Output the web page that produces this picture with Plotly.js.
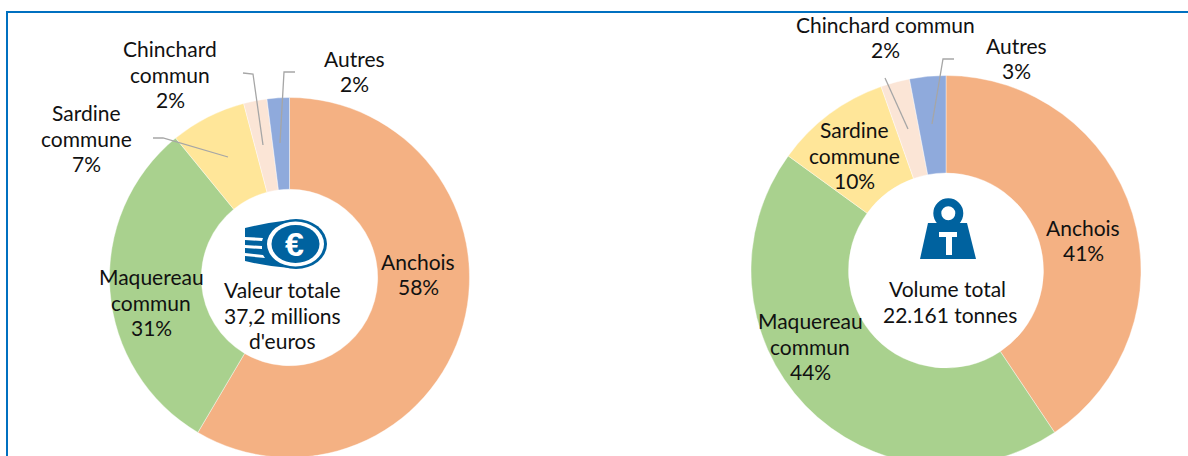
<!DOCTYPE html>
<html><head><meta charset="utf-8">
<script src="https://cdn.plot.ly/plotly-3.0.1.min.js"></script>
<style>html,body{margin:0;padding:0;background:#fff;overflow:hidden;width:1188px;height:456px}</style>
</head><body><div id="chart" style="width:1188px;height:520px"></div>
<script>
const species = ['Anchois','Maquereau commun','Sardine commune','Chinchard commun','Autres'];
const valueShares = [58.5,30.6,6.8,2.1,2.0];
const volumeShares = [40.6,44.4,9.6,2.4,3.0];
const valueLabels = ['58%','31%','7%','2%','2%'];
const volumeLabels = ['41%','44%','10%','2%','3%'];
const colours = ['#F4B183','#A9D18E','#FFE699','#FBE5D6','#8FAADC'];
const H = 520, W = 1188;
const FONT = 'Lato, sans-serif', SIZE = 21, PITCH = 25.7;

function pie(vals, cx, cy, r, hole){
  return {type:'pie', values:vals, labels:species, sort:false, direction:'clockwise', rotation:0,
    hole:hole, textinfo:'none', hoverinfo:'label+percent', showlegend:false,
    marker:{colors:colours, line:{color:'#fff',width:0.4}},
    domain:{x:[(cx-r)/W,(cx+r)/W], y:[1-(cy+r)/H,1-(cy-r)/H]}};
}
function block(lines,x,y){
  return lines.map((t,i)=>({text:t,x:x,y:y+(i-(lines.length-1)/2)*PITCH,xref:'x',yref:'y',showarrow:false,
    xanchor:'center',yanchor:'middle',align:'center',font:{family:FONT,size:SIZE,color:'#111'}}));
}
const two=s=>s.split(' ');
const annotations=[].concat(
  block([species[0],valueLabels[0]],418,274),
  block([...two(species[1]),valueLabels[1]],151,302),
  block([...two(species[2]),valueLabels[2]],86,138),
  block([...two(species[3]),valueLabels[3]],170,74),
  block([species[4],valueLabels[4]],354,71),
  block(['Valeur totale','37,2 millions',"d'euros"],282,315),
  block([species[0],volumeLabels[0]],1083,240),
  block([...two(species[1]),volumeLabels[1]],810,346),
  block([...two(species[2]),volumeLabels[2]],854,155),
  block([species[3],volumeLabels[3]],885,37),
  block([species[4],volumeLabels[4]],1016,58),
  block(['Volume total'],947,288),
  block(['22.161 tonnes'],950,314),
  [{text:'<b>€</b>',x:294,y:244,xref:'x',yref:'y',showarrow:false,font:{family:'Liberation Sans',size:34,color:'#fff'}}]
);
const BLUE='#00629F', GREY='#A6A6A6';
const path=(d,fill)=>({type:'path',xref:'x',yref:'y',path:d,fillcolor:fill,line:{width:0},layer:'above'});
const oval=(cx,cy,rx,ry,fill)=>({type:'circle',xref:'x',yref:'y',x0:cx-rx,x1:cx+rx,y0:cy-ry,y1:cy+ry,fillcolor:fill,line:{width:0},layer:'above'});
const leader=d=>({type:'path',xref:'x',yref:'y',path:d,line:{color:GREY,width:1.3},layer:'above'});
const shapes=[
  {type:'line',xref:'x',yref:'y',x0:7,x1:1188,y0:12,y1:12,line:{color:'#0070C0',width:2},layer:'above'},
  {type:'line',xref:'x',yref:'y',x0:7,x1:7,y0:11,y1:456,line:{color:'#0070C0',width:2},layer:'above'},
  leader('M243,73 L253,74 L263,145'),
  leader('M295,72 L284,72 L280,143'),
  leader('M153,138 L163,138 L228,157'),
  leader('M885,78 L908,129'),
  leader('M954,59 L943,59 L932,124'),
  path('M245,228 Q265,223 290,220 L290,268 Q265,266 245,261 Z',BLUE),
  path('M245,237 L263,238 L262,241 L245,240 Z','#fff'),
  path('M245,245 L262,246 L262,249 L245,248 Z','#fff'),
  path('M245,253 L263,255 L265,258 L245,256 Z','#fff'),
  oval(296,244,31,25,BLUE),
  oval(295.5,244,28.5,22.5,'#fff'),
  oval(295.5,244,24,19,BLUE),
  oval(948.3,213.3,15,15,BLUE),
  path('M928,223 L967,223 L976,259 L920,259 Z',BLUE),
  oval(948.3,213.3,7,7,'#fff'),
  path('M939,232 L957,232 L957,237 L952,237 L952,255 L946,255 L946,237 L939,237 Z','#fff')
];
Plotly.newPlot('chart',[
  pie(valueShares,289.5,277.5,180,0.49),
  pie(volumeShares,946,270.5,195,0.5),
  {type:'scatter',x:[null],y:[null],hoverinfo:'skip',showlegend:false,mode:'markers'}
],{
  width:W,height:H,margin:{l:0,r:0,t:0,b:0},paper_bgcolor:'#fff',plot_bgcolor:'rgba(0,0,0,0)',showlegend:false,
  xaxis:{range:[0,W],visible:false,fixedrange:true},
  yaxis:{range:[H,0],visible:false,fixedrange:true},
  annotations:annotations,shapes:shapes
},{displayModeBar:false,staticPlot:true});
</script></body></html>
